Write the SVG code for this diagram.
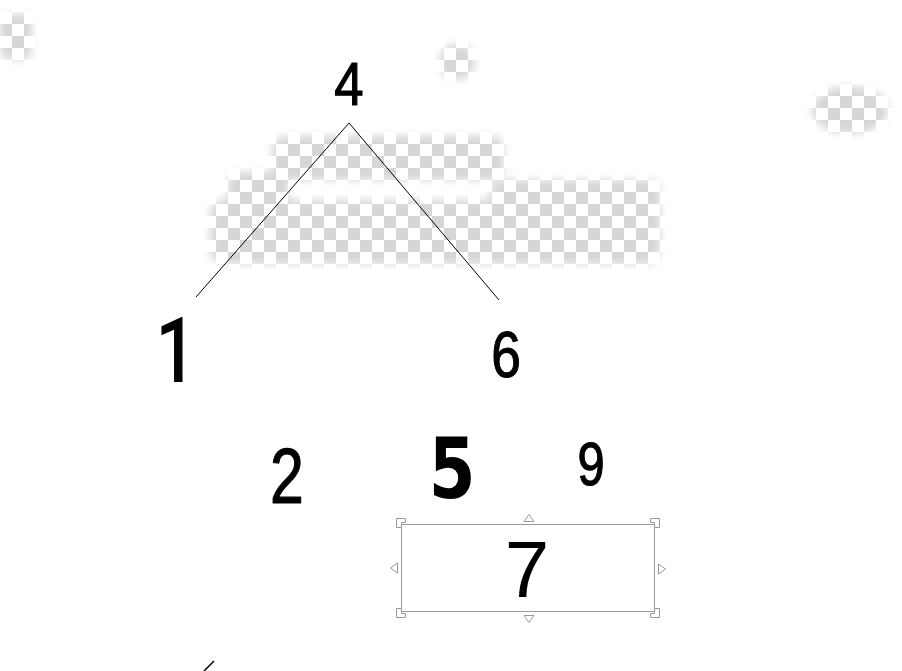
<svg xmlns="http://www.w3.org/2000/svg" width="902" height="671" viewBox="0 0 902 671">
<style>
.lbl{font-family:"Liberation Sans",Arial,sans-serif;fill:#000;stroke:#000;stroke-width:1.2;text-anchor:middle}
.one{font-family:Roboto,"Liberation Sans",sans-serif;font-weight:500;fill:#000;text-anchor:middle}
.b5{font-family:"DejaVu Sans","Liberation Sans",sans-serif;font-weight:bold;fill:#000;text-anchor:middle}
.edge{stroke:#000;stroke-width:1;fill:none}
.sel{fill:#fff;stroke:#999;stroke-width:1}
.hdl{fill:#fff;stroke:#999;stroke-width:1}
</style>
<defs>
<pattern id="chk" width="24" height="24" patternUnits="userSpaceOnUse">
<rect width="24" height="24" fill="#fff"/>
<rect width="12" height="12" fill="#d6d6d6"/>
<rect x="12" y="12" width="12" height="12" fill="#d6d6d6"/>
</pattern>
<filter id="blr" x="-20%" y="-20%" width="140%" height="140%"><feGaussianBlur stdDeviation="4"/></filter>
<mask id="m">
<g fill="#fff" filter="url(#blr)">
<rect x="0" y="14" width="32" height="46" rx="10"/>
<circle cx="457" cy="62" r="18"/>
<rect x="272" y="136" width="232" height="44" rx="14"/>
<rect x="228" y="172" width="60" height="40" rx="10"/>
<rect x="210" y="200" width="450" height="64" rx="14"/>
<rect x="490" y="180" width="170" height="40" rx="10"/>
<ellipse cx="850" cy="110" rx="38" ry="24"/>
</g>
</mask>
</defs>
<rect width="902" height="671" fill="#fff"/>
<rect width="902" height="671" fill="url(#chk)" mask="url(#m)"/>
<g id="connectors">
<line class="edge" x1="349" y1="123" x2="196" y2="297"/>
<line class="edge" x1="349" y1="123" x2="499" y2="300"/>
<line x1="204" y1="671" x2="214" y2="661" stroke="#000" stroke-width="1.5"/>
</g>
<g id="n4"><text class="lbl" transform="translate(349,105) scale(0.85,1)" font-size="62">4</text></g>
<g id="n1"><text class="one" transform="translate(176,382) scale(0.8,1)" font-size="90">1</text></g>
<g id="n6"><text class="lbl" transform="translate(506,377) scale(0.82,1)" font-size="65">6</text></g>
<g id="n2"><text class="lbl" transform="translate(287,503) scale(0.78,1)" font-size="78">2</text></g>
<g id="n5"><text class="b5" transform="translate(452,498) scale(0.8,1)" font-size="84">5</text></g>
<g id="n9"><text class="lbl" transform="translate(591,485) scale(0.8,1)" font-size="61">9</text></g>
<g id="n7">
<rect class="sel" x="401.5" y="524.5" width="253" height="87"/>
<text x="527" y="597" font-size="80" font-family="'Liberation Sans',Arial,sans-serif" text-anchor="middle" fill="#000">7</text>
<path class="hdl" d="M396.5 518.5h9v4h-4v5h-5z"/>
<path class="hdl" d="M659.5 518.5h-9v4h4v5h5z"/>
<path class="hdl" d="M396.5 617.5h9v-4h-4v-5h-5z"/>
<path class="hdl" d="M659.5 617.5h-9v-4h4v-5h5z"/>
<path class="hdl" d="M529 514.5l-5 7h10z"/>
<path class="hdl" d="M529 622.5l-5 -7h10z"/>
<path class="hdl" d="M390.5 568l7 -5v10z"/>
<path class="hdl" d="M665.5 569l-7 -5v10z"/>
</g>
</svg>
